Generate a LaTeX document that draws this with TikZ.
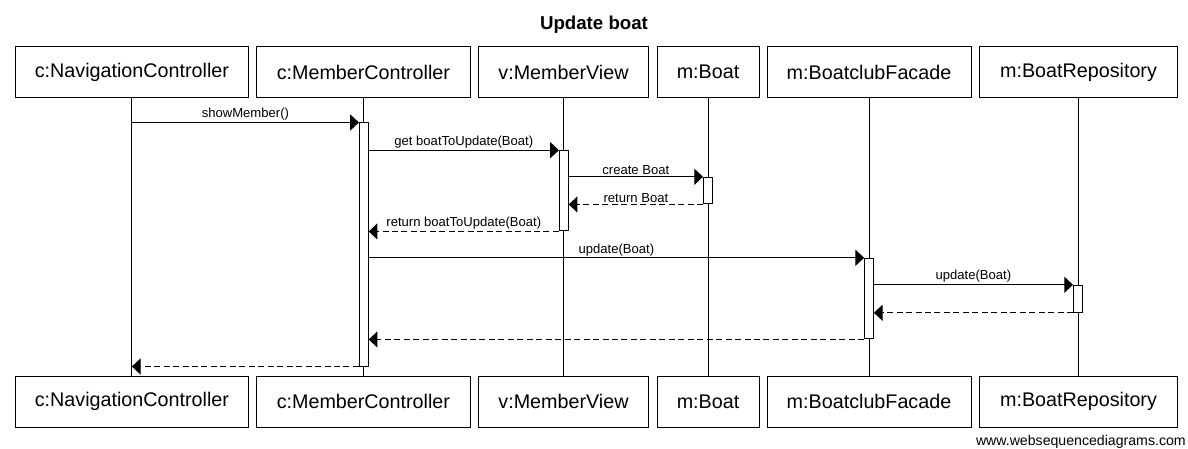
\documentclass[tikz,border=0pt]{standalone}
\usepackage{fontspec}
\setmainfont{Liberation Sans}
\usetikzlibrary{arrows.meta}
\tikzset{
  part/.style={draw, line width=0.75pt, rectangle, minimum height=38.25pt, inner sep=0pt, font=\fontsize{14.8}{17}\selectfont},
  life/.style={line width=0.75pt},
  act/.style={draw, fill=white, line width=0.75pt, rectangle, minimum width=6.6pt, inner sep=0pt},
  msg/.style={line width=0.75pt, -{Triangle[length=6.5pt, width=12pt]}},
  ret/.style={msg, dash pattern=on 4.5pt off 2.6pt},
  lbl/.style={font=\fontsize{9.8}{11}\selectfont, inner sep=1.2pt, above, midway}
}
\begin{document}
\begin{tikzpicture}[x=0.75pt, y=-0.75pt]
\useasboundingbox (0,0) rectangle (1188,449);
\node[font=\bfseries\fontsize{14}{16}\selectfont] (title) at (594,25) {Update boat};
% participants top
\node[part, minimum width=174.75pt] (t1) at (131.9,72) {c:NavigationController};
\node[part, minimum width=160.5pt] (t2) at (363.4,72) {c:MemberController};
\node[part, minimum width=127.5pt] (t3) at (563.5,72) {v:MemberView};
\node[part, minimum width=76.5pt] (t4) at (708,72) {m:Boat};
\node[part, minimum width=153pt] (t5) at (869,72) {m:BoatclubFacade};
\node[part, minimum width=148.5pt] (t6) at (1078.5,72) {m:BoatRepository};
% participants bottom
\node[part, minimum width=174.75pt] (b1) at (131.9,401.7) {c:NavigationController};
\node[part, minimum width=160.5pt] (b2) at (363.4,401.7) {c:MemberController};
\node[part, minimum width=127.5pt] (b3) at (563.5,401.7) {v:MemberView};
\node[part, minimum width=76.5pt] (b4) at (708,401.7) {m:Boat};
\node[part, minimum width=153pt] (b5) at (869,401.7) {m:BoatclubFacade};
\node[part, minimum width=148.5pt] (b6) at (1078.5,401.7) {m:BoatRepository};
% lifelines
\foreach \i in {1,...,6} { \draw[life] (t\i.south) -- (b\i.north); }
% activations
\node[act, minimum height=182.25pt] (a2) at (363.8,244.5) {};
\node[act, minimum height=60.2pt] (a3) at (563.8,190.85) {};
\node[act, minimum height=20pt] (a4) at (707.9,190.65) {};
\node[act, minimum height=60.5pt] (a5) at (869,298.65) {};
\node[act, minimum height=20.25pt] (a6) at (1077.9,298.8) {};
\coordinate (l1a) at (t1.south |- a2.north);
\coordinate (l1b) at (t1.south |- a2.south);
% messages
\draw[msg] (l1a) -- (a2.north west) node[lbl] {showMember()};
\draw[msg] (a2.east |- a3.north) -- (a3.north west) node[lbl] {get boatToUpdate(Boat)};
\draw[msg] (a3.east |- a4.north) -- (a4.north west) node[lbl] {create Boat};
\draw[ret] (a4.south west) -- (a3.east |- a4.south) node[lbl] {return Boat};
\draw[ret] (a3.south west) -- (a2.east |- a3.south) node[lbl] {return boatToUpdate(Boat)};
\draw[msg] (a2.east |- a5.north) -- (a5.north west) node[lbl] {update(Boat)};
\draw[msg] (a5.east |- a6.north) -- (a6.north west) node[lbl] {update(Boat)};
\draw[ret] (a6.south west) -- (a5.east |- a6.south);
\draw[ret] (a5.south west) -- (a2.east |- a5.south);
\draw[ret] (a2.south west) -- (l1b);
\node[font=\fontsize{10.6}{12}\selectfont, anchor=east, inner sep=0pt] (web) at (1186,441.5) {www.websequencediagrams.com};
\end{tikzpicture}
\end{document}
